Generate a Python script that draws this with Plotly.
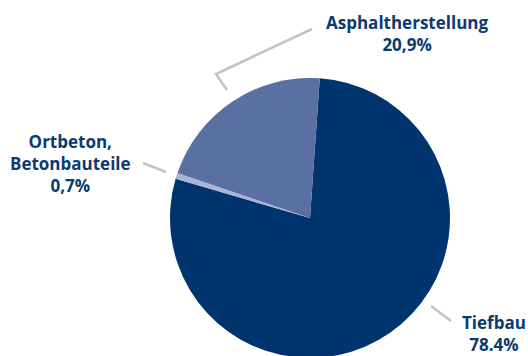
import plotly.graph_objects as go

# Anteile nach Sparte
sparten = ["Tiefbau", "Ortbeton, Betonbauteile", "Asphaltherstellung"]
anteile = [78.4, 0.7, 20.9]
beschriftung = ["Tiefbau<br>78.4%", "Ortbeton,<br>Betonbauteile<br>0,7%", "Asphaltherstellung<br>20,9%"]
farben = ["#00346e", "#a9b5d5", "#5a70a2"]

W, H = 528, 362
textColor = "#0b3a6f"
lineColor = "#c3c3c3"


def px(x, y):
    # Pixel -> Papierkoordinaten
    return x / W, 1 - y / H


fig = go.Figure(go.Pie(
    labels=sparten,
    values=anteile,
    marker=dict(colors=farben, line=dict(width=0)),
    sort=False,
    direction="clockwise",
    rotation=4,
    textinfo="none",
    hoverinfo="label+percent",
    domain=dict(x=[170 / W, 450 / W], y=[1 - 358 / H, 1 - 78 / H]),
    showlegend=False,
))

# Beschriftungen
label_pos = [(494, 333), (70, 164), (407, 34)]
for text, (x, y) in zip(beschriftung, label_pos):
    ax, ay = px(x, y)
    fig.add_annotation(x=ax, y=ay, xref="paper", yref="paper", text="<b>" + text + "</b>",
                       showarrow=False, align="center", xanchor="center", yanchor="middle",
                       font=dict(family="Open Sans", size=17, color=textColor))

# Hinweislinien
leader = [
    [(431, 306), (451, 321)],
    [(143, 163), (166, 172)],
    [(227, 90), (216, 74), (312, 29)],
]
for pts in leader:
    path = ""
    for i, (x, y) in enumerate(pts):
        a, b = px(x, y)
        path += ("M" if i == 0 else " L") + f" {a} {b}"
    fig.add_shape(type="path", path=path, xref="paper", yref="paper",
                  line=dict(color=lineColor, width=2.5))

fig.update_layout(
    width=W, height=H,
    margin=dict(l=0, r=0, t=0, b=0),
    paper_bgcolor="white",
    plot_bgcolor="white",
)

# Rand der Seite entfernen, damit die Grafik bei (0, 0) beginnt
fig.write_html("out.html", config={"displayModeBar": False},
               post_script="document.body.style.margin='0';")
